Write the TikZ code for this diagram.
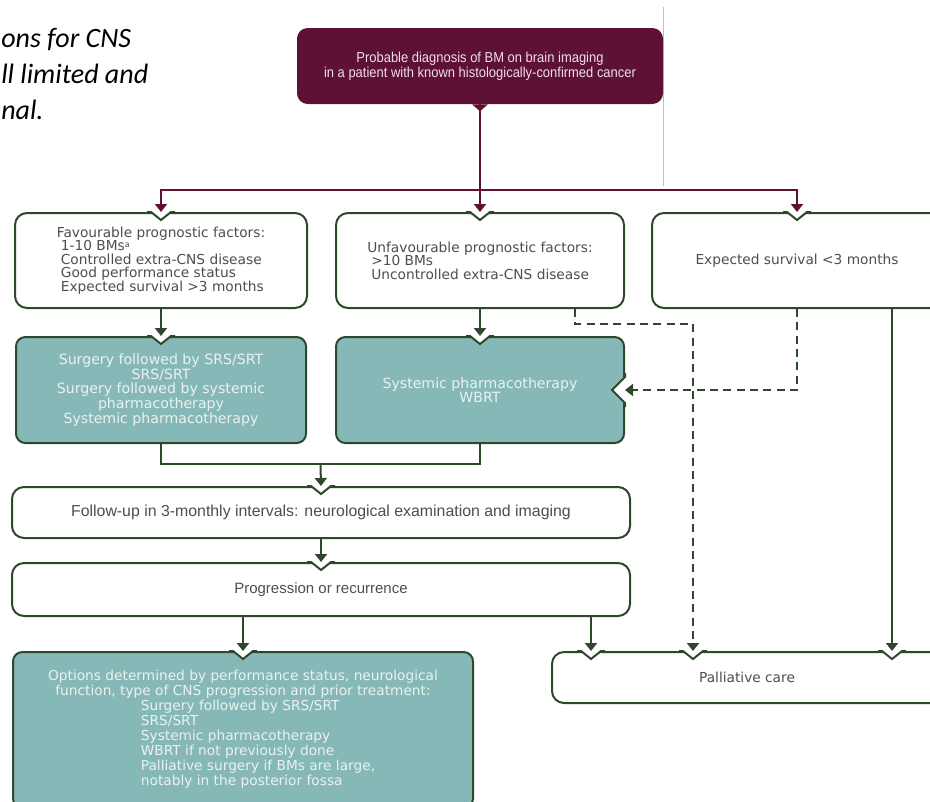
\documentclass[tikz,border=0pt]{standalone}
\usepackage{fontspec}
\usepackage{xcolor}
\usetikzlibrary{arrows.meta,calc,positioning}

\newfontfamily\bodyfont{DejaVu Sans}
\newfontfamily\narrowfont{Liberation Sans}
\newfontfamily\condfont[FakeStretch=0.9]{Liberation Sans}
\newfontfamily\notefont{Carlito}

\definecolor{bmpurple}{RGB}{94,17,52}
\definecolor{bmgreen}{RGB}{45,72,42}
\definecolor{bmteal}{RGB}{134,184,184}
\definecolor{bmtealtext}{RGB}{234,242,240}
\definecolor{bmgray}{RGB}{78,78,78}
\definecolor{bmpink}{RGB}{238,224,230}

% V-shaped cut in the top border of a box, at #1
\newcommand{\topnotch}[1]{%
  \fill[white] ($(#1)+(-10,-1.6)$) -- ($(#1)+(10,-1.6)$) -- ($(#1)+(10,0)$)
    -- ($(#1)+(0,8)$) -- ($(#1)+(-10,0)$) -- cycle;
  \draw[bmgreen,line width=1.5pt,miter limit=4] ($(#1)+(-14,0)$) -- ($(#1)+(-10,0)$)
    -- ($(#1)+(0,8)$) -- ($(#1)+(10,0)$) -- ($(#1)+(14,0)$);}
% same cut in the right border
\newcommand{\sidenotch}[1]{%
  \fill[white] ($(#1)+(1.6,-13)$) -- ($(#1)+(1.6,13)$) -- ($(#1)+(0,13)$)
    -- ($(#1)+(-13,0)$) -- ($(#1)+(0,-13)$) -- cycle;
  \draw[bmgreen,line width=1.5pt,miter limit=4] ($(#1)+(0,-17)$) -- ($(#1)+(0,-13)$)
    -- ($(#1)+(-13,0)$) -- ($(#1)+(0,13)$) -- ($(#1)+(0,17)$);}

\begin{document}
\begin{tikzpicture}[x=0.75pt,y=-0.75pt,
    box/.style={draw=bmgreen,line width=1.5pt,rounded corners=9pt,fill=white,
      text=bmgray,align=left,inner sep=0pt,
      font=\bodyfont\fontsize{10.3pt}{10.2pt}\selectfont},
    treat/.style={box,fill=bmteal,text=bmtealtext,rounded corners=7pt,align=center,
      font=\bodyfont\fontsize{10.6pt}{11pt}\selectfont},
    wide/.style={box,align=center,font=\narrowfont\fontsize{11.25pt}{12pt}\selectfont},
    topbox/.style={fill=bmpurple,text=bmpink,rounded corners=8pt,align=center,inner sep=0pt,
      font=\condfont\fontsize{10.8pt}{11.25pt}\selectfont},
    note/.style={inner sep=0pt,font=\notefont\itshape\fontsize{21pt}{27pt}\selectfont},
    arr/.style={draw=bmgreen,line width=1.5pt,-{Triangle[width=9pt,length=6pt]}},
    parr/.style={arr,draw=bmpurple},
    darr/.style={arr,dash pattern=on 6pt off 4pt}]
  \useasboundingbox (0,0) rectangle (930,801);
  \clip (0,0) rectangle (930,801);

  \node[note,anchor=base west] (note1) at (1,47) {ons for CNS};
  \node[note,anchor=base west] (note2) at (1,83) {ll limited and};
  \node[note,anchor=base west] (note3) at (1,119) {nal.};
  \draw[black!25,line width=0.6pt] (663,7) -- (663,186);

  \node[topbox,minimum width=274.5pt,minimum height=57pt] (diag) at (480,66)
    {Probable diagnosis of BM on brain imaging\\
     in a patient with known histologically-confirmed cancer};
  \fill[bmpurple] ($(diag.south)+(-8,0)$) -- ($(diag.south)+(0,7)$) -- ($(diag.south)+(8,0)$) -- cycle;

  % first row
  \node[box,minimum width=219pt,minimum height=71.25pt] (fav) at (161,260.5)
    {Favourable prognostic factors:\\
     \hspace*{3pt}1-10 BMs\raisebox{2.5pt}{\fontsize{6pt}{6pt}\selectfont a}\\
     \hspace*{3pt}Controlled extra-CNS disease\\
     \hspace*{3pt}Good performance status\\
     \hspace*{3pt}Expected survival >3 months};
  \node[box,minimum width=216pt,minimum height=71.25pt] (unfav) at (480,260.5)
    {Unfavourable prognostic factors:\\
     \hspace*{3pt}>10 BMs\\
     \hspace*{3pt}Uncontrolled extra-CNS disease};
  \node[box,align=center,minimum width=217.5pt,minimum height=71.25pt] (surv) at (797,260.5)
    {Expected survival <3 months};

  % treatment
  \node[treat,minimum width=217.5pt,minimum height=79.5pt] (surg) at (161,390)
    {Surgery followed by SRS/SRT\\SRS/SRT\\Surgery followed by systemic\\
     pharmacotherapy\\Systemic pharmacotherapy};
  \node[treat,minimum width=216pt,minimum height=79.5pt] (wbrt) at (480,390)
    {Systemic pharmacotherapy\\WBRT};

  \node[wide,minimum width=463.5pt,minimum height=38.25pt,
    font=\narrowfont\fontsize{11.9pt}{12pt}\selectfont] (follow) at (321,512.5)
    {Follow-up in 3-monthly intervals: neurological examination and imaging};
  \node[wide,minimum width=463.5pt,minimum height=39.75pt] (prog) at (321,589.5)
    {Progression or recurrence};

  \node[treat,minimum width=345pt,minimum height=117pt,font=\bodyfont\fontsize{10.3pt}{11.25pt}\selectfont]
    (opt) at (243,730)
    {Options determined by performance status, neurological\\
     function, type of CNS progression and prior treatment:\\
     \hspace*{22.5pt}\begin{tabular}[t]{@{}l@{}}
       Surgery followed by SRS/SRT\\
       SRS/SRT\\
       Systemic pharmacotherapy\\
       WBRT if not previously done\\
       Palliative surgery if BMs are large,\\
       notably in the posterior fossa
     \end{tabular}};
  \node[box,align=center,minimum width=292.5pt,minimum height=38.25pt] (pall) at (747,677.5)
    {Palliative care};

  \coordinate (pA) at ($(pall.north west)+(40,0)$);
  \coordinate (pB) at ($(pall.north west)+(142,0)$);
  \coordinate (pC) at ($(pall.north west)+(341,0)$);
  \coordinate (dA) at ($(unfav.south east)+(-50,0)$);
  \coordinate (split) at ($(diag.south)+(0,86)$);
  \coordinate (join) at ($(surg.south)!0.5!(wbrt.south)+(0,20)$);

  \foreach \n in {fav.north,unfav.north,surv.north,surg.north,wbrt.north,
    follow.north,prog.north,opt.north,pA,pB,pC} \topnotch{\n};
  \sidenotch{wbrt.east}

  % connectors
  \draw[parr] (diag.south) -- (unfav.north);
  \draw[parr] (split) -| (fav.north);
  \draw[parr] (split) -| (surv.north);

  \draw[arr] (fav.south) -- (surg.north);
  \draw[arr] (unfav.south) -- (wbrt.north);
  \draw[bmgreen,line width=1.5pt] (surg.south) |- (join) -| (wbrt.south);
  \draw[arr] (join) -- (follow.north);
  \draw[arr] (follow.south) -- (prog.north);
  \draw[arr] (prog.south -| opt.north) -- (opt.north);
  \draw[arr] (prog.south -| pA) -- (pA);

  \draw[darr] (dA) -- ++(0,15) -| (pB);
  \draw[darr] (surv.south) |- (wbrt.east);
  \draw[arr] (surv.south -| pC) -- (pC);
\end{tikzpicture}
\end{document}
